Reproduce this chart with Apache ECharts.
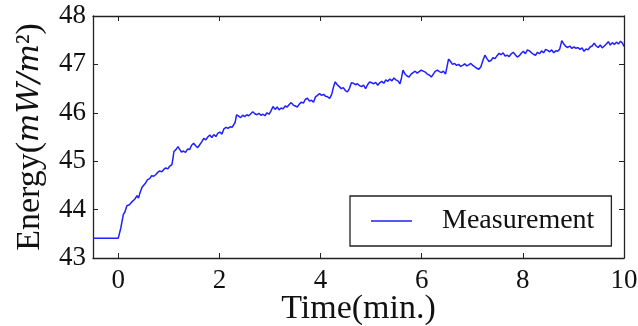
<!DOCTYPE html>
<html>
<head>
<meta charset="utf-8">
<script src="https://cdn.jsdelivr.net/npm/echarts@6/dist/echarts.min.js"></script>
<style>html,body{margin:0;padding:0;background:#fff}#c{width:638px;height:326px}</style>
</head>
<body>
<div id="c"></div>
<script>
var seriesName = 'Measurement';
var xTicks = [0, 2, 4, 6, 8, 10];
var yTicks = [43, 44, 45, 46, 47, 48];
var times = [-0.5,0.0,0.05,0.10,0.13,0.17,0.22,0.27,0.30,0.33,0.37,0.40,0.43,0.47,0.50,0.54,0.58,0.62,0.66,0.70,0.74,0.78,0.82,0.86,0.90,0.94,0.98,1.02,1.06,1.08,1.10,1.14,1.18,1.21,1.25,1.29,1.33,1.37,1.41,1.45,1.49,1.53,1.57,1.61,1.65,1.69,1.73,1.77,1.81,1.85,1.89,1.93,1.97,2.01,2.05,2.09,2.13,2.17,2.21,2.25,2.28,2.31,2.34,2.38,2.42,2.46,2.50,2.54,2.58,2.62,2.66,2.70,2.74,2.78,2.82,2.86,2.90,2.94,2.98,3.02,3.06,3.10,3.14,3.18,3.22,3.26,3.30,3.34,3.38,3.42,3.46,3.50,3.54,3.58,3.62,3.66,3.70,3.74,3.78,3.82,3.86,3.90,3.94,3.98,4.02,4.06,4.10,4.14,4.18,4.22,4.26,4.29,4.33,4.37,4.41,4.45,4.49,4.53,4.57,4.61,4.65,4.69,4.73,4.77,4.81,4.85,4.89,4.93,4.97,5.01,5.05,5.09,5.13,5.17,5.21,5.25,5.29,5.33,5.37,5.41,5.45,5.49,5.53,5.57,5.60,5.63,5.67,5.71,5.75,5.79,5.83,5.87,5.91,5.95,5.99,6.03,6.07,6.11,6.15,6.19,6.23,6.27,6.31,6.35,6.39,6.43,6.47,6.50,6.53,6.57,6.61,6.65,6.69,6.73,6.77,6.81,6.85,6.89,6.93,6.97,7.01,7.05,7.09,7.13,7.17,7.21,7.25,7.29,7.33,7.37,7.41,7.45,7.49,7.53,7.57,7.61,7.65,7.69,7.73,7.77,7.81,7.85,7.89,7.93,7.97,8.01,8.05,8.09,8.13,8.17,8.21,8.25,8.29,8.33,8.37,8.41,8.45,8.49,8.53,8.57,8.61,8.65,8.69,8.73,8.77,8.81,8.85,8.89,8.93,8.97,9.01,9.05,9.09,9.13,9.17,9.21,9.25,9.29,9.33,9.37,9.41,9.45,9.49,9.53,9.57,9.61,9.65,9.69,9.73,9.77,9.81,9.85,9.89,9.93,9.97,10.0];
var energies = [43.41,43.41,43.62,43.90,43.95,44.08,44.10,44.16,44.14,44.22,44.29,44.24,44.35,44.46,44.50,44.55,44.62,44.64,44.70,44.69,44.72,44.77,44.80,44.78,44.83,44.86,44.84,44.90,44.93,45.05,45.20,45.24,45.30,45.25,45.19,45.21,45.18,45.25,45.24,45.33,45.37,45.32,45.28,45.34,45.40,45.47,45.44,45.50,45.54,45.49,45.55,45.51,45.58,45.60,45.56,45.67,45.70,45.68,45.71,45.70,45.66,45.80,45.96,45.93,45.90,45.95,45.92,45.96,45.94,45.98,46.02,45.98,45.96,45.99,45.95,45.97,45.94,46.00,45.97,46.04,46.13,46.07,46.12,46.06,46.10,46.08,46.14,46.12,46.17,46.21,46.16,46.14,46.12,46.18,46.22,46.20,46.28,46.30,46.24,46.26,46.22,46.33,46.36,46.40,46.36,46.38,46.34,46.33,46.30,46.38,46.55,46.64,46.58,46.54,46.50,46.52,46.46,46.43,46.50,46.62,46.61,46.58,46.60,46.56,46.54,46.57,46.50,46.58,46.64,46.62,46.60,46.63,46.57,46.62,46.65,46.61,46.68,46.65,46.70,46.66,46.72,46.68,46.66,46.60,46.72,46.88,46.80,46.76,46.74,46.80,46.83,46.86,46.82,46.85,46.88,46.86,46.84,46.80,46.78,46.74,46.80,46.86,46.88,46.85,46.83,46.86,46.80,46.95,47.11,47.06,47.00,47.02,46.98,47.00,46.96,46.98,47.01,46.97,46.99,47.02,46.98,46.95,46.92,46.90,46.95,47.08,47.19,47.12,47.06,47.08,47.14,47.12,47.18,47.23,47.20,47.24,47.17,47.19,47.16,47.22,47.25,47.20,47.15,47.18,47.23,47.27,47.22,47.30,47.28,47.24,47.21,47.19,47.25,47.22,47.28,47.24,47.31,47.29,47.26,47.30,47.24,47.28,47.27,47.32,47.49,47.42,47.37,47.35,47.38,47.33,47.36,47.33,47.35,47.31,47.34,47.27,47.32,47.30,47.36,47.38,47.44,47.38,47.35,47.40,47.34,47.38,47.42,47.47,47.40,47.45,47.41,47.46,47.42,47.48,47.44,47.37];

var pts = times.map(function (t, i) { return [t, energies[i]]; });
var serif = '"Liberation Serif", "DejaVu Serif", serif';
var axisLine = { show: true, onZero: false, lineStyle: { color: '#222', width: 1.3 } };
var tick = { show: true, inside: true, length: 5, lineStyle: { color: '#222', width: 1 } };

var chart = echarts.init(document.getElementById('c'), null, { renderer: 'canvas' });
chart.setOption({
  animation: false,
  backgroundColor: '#fff',
  grid: { left: 93, right: 14, top: 16, bottom: 68, containLabel: false, outerBoundsMode: 'none' },
  xAxis: [{
    type: 'value', min: -0.5, max: 10, position: 'bottom',
    name: 'Time(min.)', nameLocation: 'middle', nameGap: 34, nameMoveOverlap: false,
    nameTextStyle: { fontFamily: serif, fontSize: 34, color: '#111' },
    axisLine: axisLine, splitLine: { show: false },
    axisLabel: {
      fontFamily: serif, fontSize: 27, color: '#111', margin: 9,
      customValues: xTicks
    },
    axisTick: Object.assign({}, tick, { customValues: xTicks })
  }, {
    type: 'value', min: -0.5, max: 10, position: 'top',
    axisLine: axisLine, splitLine: { show: false },
    axisLabel: { show: false },
    axisTick: Object.assign({}, tick, { customValues: xTicks })
  }],
  yAxis: [{
    type: 'value', min: 43, max: 48, interval: 1, position: 'left',
    name: '{a|Energy(}{i|mW/m}{s|²}{a|)}', nameLocation: 'middle', nameGap: 46, nameRotate: 90, nameMoveOverlap: false,
    nameTextStyle: {
      fontFamily: serif, fontSize: 34, color: '#111',
      rich: {
        a: { fontFamily: serif, fontSize: 34, color: '#111' },
        i: { fontFamily: '"DejaVu Serif", serif', fontSize: 30, fontStyle: 'italic', color: '#111' },
        s: { fontFamily: serif, fontSize: 32, color: '#111' }
      }
    },
    axisLine: axisLine, axisTick: tick, splitLine: { show: false },
    axisLabel: { fontFamily: serif, fontSize: 27, color: '#111', margin: 7 }
  }, {
    type: 'value', min: 43, max: 48, interval: 1, position: 'right',
    axisLine: axisLine, axisTick: tick, splitLine: { show: false },
    axisLabel: { show: false }
  }],
  legend: {
    left: 350, top: 196,
    orient: 'horizontal',
    padding: [11, 17, 11, 21],
    backgroundColor: '#fff',
    borderColor: '#222', borderWidth: 1.3, borderRadius: 0,
    icon: 'rect', itemWidth: 41, itemHeight: 1.5,
    textStyle: { fontFamily: serif, fontSize: 28, color: '#111', padding: [0, 0, 0, 25] },
    data: [seriesName]
  },
  series: [{
    name: seriesName, type: 'line', data: pts,
    showSymbol: false, symbol: 'none',
    lineStyle: { color: '#1f1fff', width: 1.5 },
    itemStyle: { color: '#1f1fff' }
  }]
});
</script>
</body>
</html>
